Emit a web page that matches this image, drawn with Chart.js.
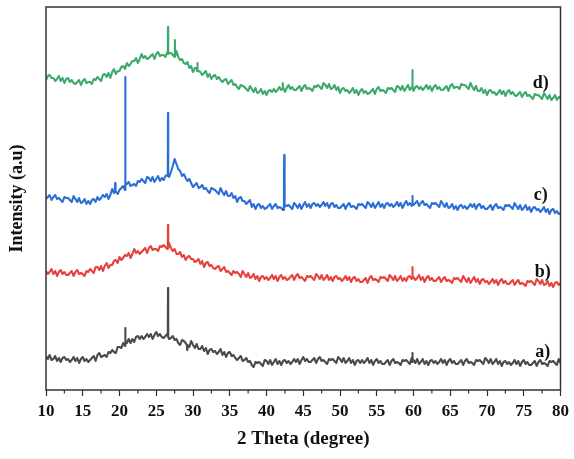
<!DOCTYPE html>
<html>
<head>
<meta charset="utf-8">
<script src="https://cdn.jsdelivr.net/npm/chart.js@4.4.1/dist/chart.umd.min.js"></script>
<style>
  html, body { margin: 0; padding: 0; background: #fff; }
  #xrd { display: block; }
</style>
</head>
<body>
<canvas id="xrd" width="574" height="459"></canvas>
<script>
// 2 theta grid (degree), 0.25 step -> 281 points
const twoTheta = [];
for (let t = 10; t <= 80; t += 0.25) twoTheta.push(t);

// intensities (a.u., stacked offsets included), 4 per degree
const intensityA = [
  34, 31, 35, 30,  31, 34, 29, 32,  28, 32, 33, 30,  31, 28, 30, 33,  29, 32, 27, 31,
  33, 29, 31, 28,  30, 32, 34, 29,  35, 37, 33, 34,  35, 33, 38, 37,  40, 38, 37, 43,
  43, 42, 47, 44,  47, 51, 47, 51,  48, 53, 54, 51,  54, 51, 53, 56,  53, 56, 51, 55,
  58, 54, 56, 53,  52, 54, 56, 51,  52, 54, 50, 51,  47, 45, 50, 49,  47, 45, 43, 49,
  45, 42, 46, 41,  41, 44, 39, 42,  36, 40, 41, 38,  39, 36, 38, 41,  35, 38, 33, 37,
  38, 34, 35, 32,  30, 32, 34, 29,  30, 32, 28, 29,  25, 23, 28, 27,  28, 26, 24, 30,
  29, 26, 30, 25,  28, 31, 26, 29,  25, 29, 30, 27,  29, 26, 28, 31,  28, 31, 26, 30,
  33, 29, 31, 28,  28, 30, 32, 27,  31, 33, 29, 30,  28, 26, 31, 30,  31, 29, 27, 33,
  31, 28, 32, 27,  29, 32, 27, 30,  25, 29, 30, 27,  30, 27, 29, 32,  27, 30, 25, 29,
  31, 27, 29, 26,  26, 28, 30, 25,  29, 31, 27, 28,  27, 25, 30, 29,  30, 28, 26, 32,
  30, 27, 31, 26,  28, 31, 26, 29,  25, 29, 30, 27,  29, 26, 28, 31,  27, 30, 25, 29,
  31, 27, 29, 26,  26, 28, 30, 25,  29, 31, 27, 28,  27, 25, 30, 29,  30, 28, 26, 32,
  30, 27, 31, 26,  28, 31, 26, 29,  24, 28, 29, 26,  28, 25, 27, 30,  26, 29, 24, 28,
  30, 26, 28, 25,  25, 27, 29, 24,  28, 30, 26, 27,  26, 24, 29, 28,  29, 27, 25, 31,
  27
];
const intensityB = [
  119, 116, 118, 121,  116, 119, 114, 118,  120, 116, 118, 115,  115, 117, 119, 114,  118, 120, 116, 117,
  116, 114, 119, 118,  121, 119, 117, 123,  123, 120, 124, 119,  124, 127, 122, 125,  125, 129, 130, 127,
  133, 130, 132, 135,  134, 137, 132, 136,  141, 137, 139, 136,  138, 140, 142, 137,  142, 144, 140, 141,
  141, 139, 144, 143,  145, 143, 141, 147,  142, 139, 141, 136,  136, 138, 133, 135,  130, 133, 134, 131,
  131, 128, 129, 131,  126, 129, 123, 127,  128, 124, 125, 122,  121, 123, 124, 119,  121, 123, 118, 119,
  117, 115, 119, 117,  118, 116, 113, 119,  116, 113, 117, 112,  113, 116, 111, 114,  109, 113, 114, 111,
  113, 110, 112, 115,  111, 114, 109, 113,  115, 111, 113, 110,  111, 113, 115, 110,  114, 116, 112, 113,
  111, 109, 114, 113,  114, 112, 110, 116,  114, 111, 115, 110,  112, 115, 110, 113,  109, 113, 114, 111,
  112, 109, 111, 114,  110, 113, 108, 112,  113, 109, 111, 108,  108, 110, 112, 107,  112, 114, 110, 111,
  110, 108, 113, 112,  113, 111, 109, 115,  113, 110, 114, 109,  111, 114, 109, 112,  109, 113, 114, 111,
  113, 110, 112, 115,  110, 113, 108, 112,  114, 110, 112, 109,  109, 111, 113, 108,  111, 113, 109, 110,
  109, 107, 112, 111,  112, 110, 108, 114,  111, 108, 112, 107,  110, 113, 108, 111,  106, 110, 111, 108,
  109, 106, 108, 111,  107, 110, 105, 109,  111, 107, 109, 106,  106, 108, 110, 105,  108, 110, 106, 107,
  106, 104, 109, 108,  109, 107, 105, 111,  109, 106, 110, 105,  106, 109, 104, 107,  103, 107, 108, 105,
  107
];
const intensityC = [
  191, 193, 195, 190,  193, 195, 191, 192,  190, 188, 193, 192,  192, 190, 188, 194,  191, 188, 192, 187,
  188, 191, 186, 189,  186, 190, 191, 188,  193, 190, 192, 195,  193, 196, 191, 195,  201, 197, 199, 196,
  200, 202, 204, 200,  206, 208, 204, 205,  206, 204, 209, 208,  211, 209, 207, 213,  212, 209, 213, 208,
  211, 214, 209, 212,  210, 214, 215, 213,  218, 224, 231, 226,  221, 219, 214, 216,  212, 209, 211, 207,
  203, 205, 207, 202,  203, 205, 201, 202,  199, 197, 202, 201,  200, 198, 196, 202,  198, 195, 199, 194,
  194, 197, 192, 194,  188, 192, 193, 189,  189, 186, 188, 190,  183, 186, 181, 185,  186, 182, 184, 181,
  182, 184, 186, 181,  184, 186, 182, 183,  182, 180, 185, 184,  185, 183, 181, 187,  185, 182, 186, 181,
  185, 188, 183, 186,  182, 186, 187, 184,  186, 183, 185, 188,  184, 187, 182, 186,  187, 183, 185, 182,
  182, 184, 186, 181,  185, 187, 183, 184,  183, 181, 186, 185,  186, 184, 182, 188,  186, 183, 187, 182,
  185, 188, 183, 186,  182, 186, 187, 184,  186, 183, 185, 188,  184, 187, 182, 186,  189, 185, 187, 184,
  185, 187, 189, 184,  187, 189, 185, 186,  184, 182, 187, 186,  187, 185, 183, 189,  186, 183, 187, 182,
  183, 186, 181, 184,  180, 184, 185, 182,  184, 181, 183, 186,  183, 186, 181, 185,  186, 182, 184, 181,
  181, 183, 185, 180,  184, 186, 182, 183,  182, 180, 185, 184,  185, 183, 181, 187,  184, 181, 185, 180,
  182, 185, 180, 183,  178, 182, 183, 180,  181, 178, 180, 183,  178, 181, 176, 180,  181, 177, 179, 176,
  177
];
const intensityD = [
  310, 314, 315, 312,  312, 309, 311, 314,  309, 312, 307, 311,  312, 308, 310, 307,  306, 308, 310, 305,
  309, 311, 307, 308,  308, 306, 311, 310,  313, 311, 309, 315,  316, 313, 317, 312,  318, 321, 316, 319,
  319, 323, 324, 321,  327, 324, 326, 329,  329, 332, 327, 331,  336, 332, 334, 331,  332, 334, 336, 331,
  336, 338, 334, 335,  335, 333, 338, 337,  337, 335, 333, 339,  333, 330, 331, 327,  326, 328, 322, 324,
  318, 322, 322, 319,  318, 315, 317, 319,  313, 316, 311, 314,  315, 311, 313, 310,  308, 310, 311, 306,
  308, 310, 305, 306,  303, 301, 305, 304,  303, 301, 299, 304,  301, 298, 302, 297,  298, 301, 296, 299,
  295, 299, 300, 298,  301, 298, 300, 303,  300, 303, 298, 302,  305, 301, 303, 300,  300, 302, 304, 299,
  303, 305, 301, 302,  301, 299, 304, 303,  305, 303, 301, 307,  305, 302, 306, 301,  302, 305, 300, 303,
  297, 301, 302, 299,  300, 297, 299, 302,  297, 300, 295, 299,  301, 297, 299, 296,  297, 299, 301, 296,
  301, 303, 299, 300,  299, 297, 302, 301,  302, 300, 298, 304,  303, 300, 304, 299,  302, 305, 300, 303,
  299, 303, 304, 301,  303, 300, 302, 305,  301, 304, 299, 303,  305, 301, 303, 300,  300, 302, 304, 299,
  304, 306, 302, 303,  303, 301, 306, 305,  305, 303, 301, 307,  303, 300, 304, 299,  299, 302, 297, 300,
  295, 299, 300, 297,  298, 295, 297, 300,  296, 299, 294, 298,  300, 296, 298, 295,  294, 296, 298, 293,
  296, 298, 294, 295,  293, 291, 296, 295,  295, 293, 291, 297,  294, 291, 295, 290,  292, 295, 290, 293,
  292
];

// sharp reflections (2 theta, intensity), base-top-base triplets
const peakXA = [20.77, 20.8, 20.83, 26.57, 26.6, 26.63, 29.17, 29.2, 29.23, 59.82, 59.85, 59.88];
const peakYA = [47, 62, 47, 54, 102, 53, 45, 40, 45, 28, 37, 28];
const peakXB = [26.57, 26.6, 26.63, 59.82, 59.85, 59.88];
const peakYB = [143, 165, 142, 112, 123, 112];
const peakXC = [19.37, 19.4, 19.43, 20.77, 20.8, 20.83, 26.57, 26.6, 26.63, 42.37, 42.4, 42.43, 59.82, 59.85, 59.88];
const peakYC = [198, 207, 198, 205, 313, 205, 214, 277, 216, 183, 235, 183, 186, 194, 186];
const peakXD = [26.57, 26.6, 26.63, 27.52, 27.55, 27.58, 30.57, 30.6, 30.63, 42.17, 42.2, 42.23, 59.82, 59.85, 59.88];
const peakYD = [336, 363, 336, 335, 350, 334, 319, 327, 319, 301, 307, 301, 302, 320, 302];

const sampleNames = ['a)', 'b)', 'c)', 'd)'];
const sampleColors = ['#4a4a4a', '#e8403e', '#2a6fd6', '#3daa6c'];
const nameX = [77.6, 77.6, 77.3, 77.3];
const nameY = [38, 118, 195, 307];

function buildSeries(values, px, py) {
  const pts = twoTheta.map((t, i) => ({ x: t, y: values[i] }));
  px.forEach((t, i) => pts.push({ x: t, y: py[i] }));
  return pts.sort((a, b) => a.x - b.x);
}

const series = [
  buildSeries(intensityA, peakXA, peakYA),
  buildSeries(intensityB, peakXB, peakYB),
  buildSeries(intensityC, peakXC, peakYC),
  buildSeries(intensityD, peakXD, peakYD)
];

const serif = '"Liberation Serif", "Times New Roman", serif';
const axisColor = '#333333';

const framePlugin = {
  id: 'frame',
  afterDraw(chart) {
    const { ctx, chartArea: a, scales } = chart;
    const xs = scales.x;
    ctx.save();
    // minor ticks
    ctx.strokeStyle = axisColor;
    ctx.lineWidth = 1.2;
    for (let t = 12.5; t < 80; t += 5) {
      const px = xs.getPixelForValue(t);
      ctx.beginPath();
      ctx.moveTo(px, a.bottom);
      ctx.lineTo(px, a.bottom + 3.5);
      ctx.stroke();
    }
    // box
    ctx.lineWidth = 1.5;
    ctx.strokeRect(a.left, a.top, a.right - a.left, a.bottom - a.top);
    // sample names
    ctx.font = 'bold 18px ' + serif;
    ctx.fillStyle = '#111';
    ctx.textAlign = 'center';
    ctx.textBaseline = 'middle';
    sampleNames.forEach((n, i) => {
      ctx.fillText(n, xs.getPixelForValue(nameX[i]), scales.y.getPixelForValue(nameY[i]));
    });
    ctx.restore();
  }
};

new Chart(document.getElementById('xrd'), {
  type: 'line',
  data: {
    datasets: series.map((pts, i) => ({
      label: sampleNames[i],
      data: pts,
      borderColor: sampleColors[i],
      borderWidth: 2.1,
      borderJoinStyle: 'round',
      pointRadius: 0,
      tension: 0,
      fill: false
    }))
  },
  options: {
    responsive: false,
    animation: false,
    devicePixelRatio: 1,
    layout: { padding: { left: 0, right: 9, top: 7, bottom: 0 } },
    plugins: { legend: { display: false }, tooltip: { enabled: false } },
    scales: {
      x: {
        type: 'linear',
        min: 10,
        max: 80,
        ticks: {
          stepSize: 5,
          padding: 5,
          color: '#111',
          font: { family: serif, size: 17, weight: 'bold' }
        },
        grid: { drawOnChartArea: false, drawTicks: true, tickLength: 6, tickColor: axisColor, tickWidth: 1.2 },
        border: { display: false },
        title: {
          display: true,
          text: '2 Theta (degree)',
          color: '#111',
          font: { family: serif, size: 19, weight: 'bold' },
          padding: { top: 0, bottom: 9 }
        },
        afterFit(scale) { scale.height = 69; }
      },
      y: {
        min: 0,
        max: 383,
        ticks: { display: false },
        grid: { display: false },
        border: { display: false },
        title: {
          display: true,
          text: 'Intensity (a.u)',
          color: '#111',
          font: { family: serif, size: 18, weight: 'bold' },
          padding: { top: 7, bottom: 0 }
        },
        afterFit(scale) { scale.width = 46; }
      }
    }
  },
  plugins: [framePlugin]
});
</script>
</body>
</html>
